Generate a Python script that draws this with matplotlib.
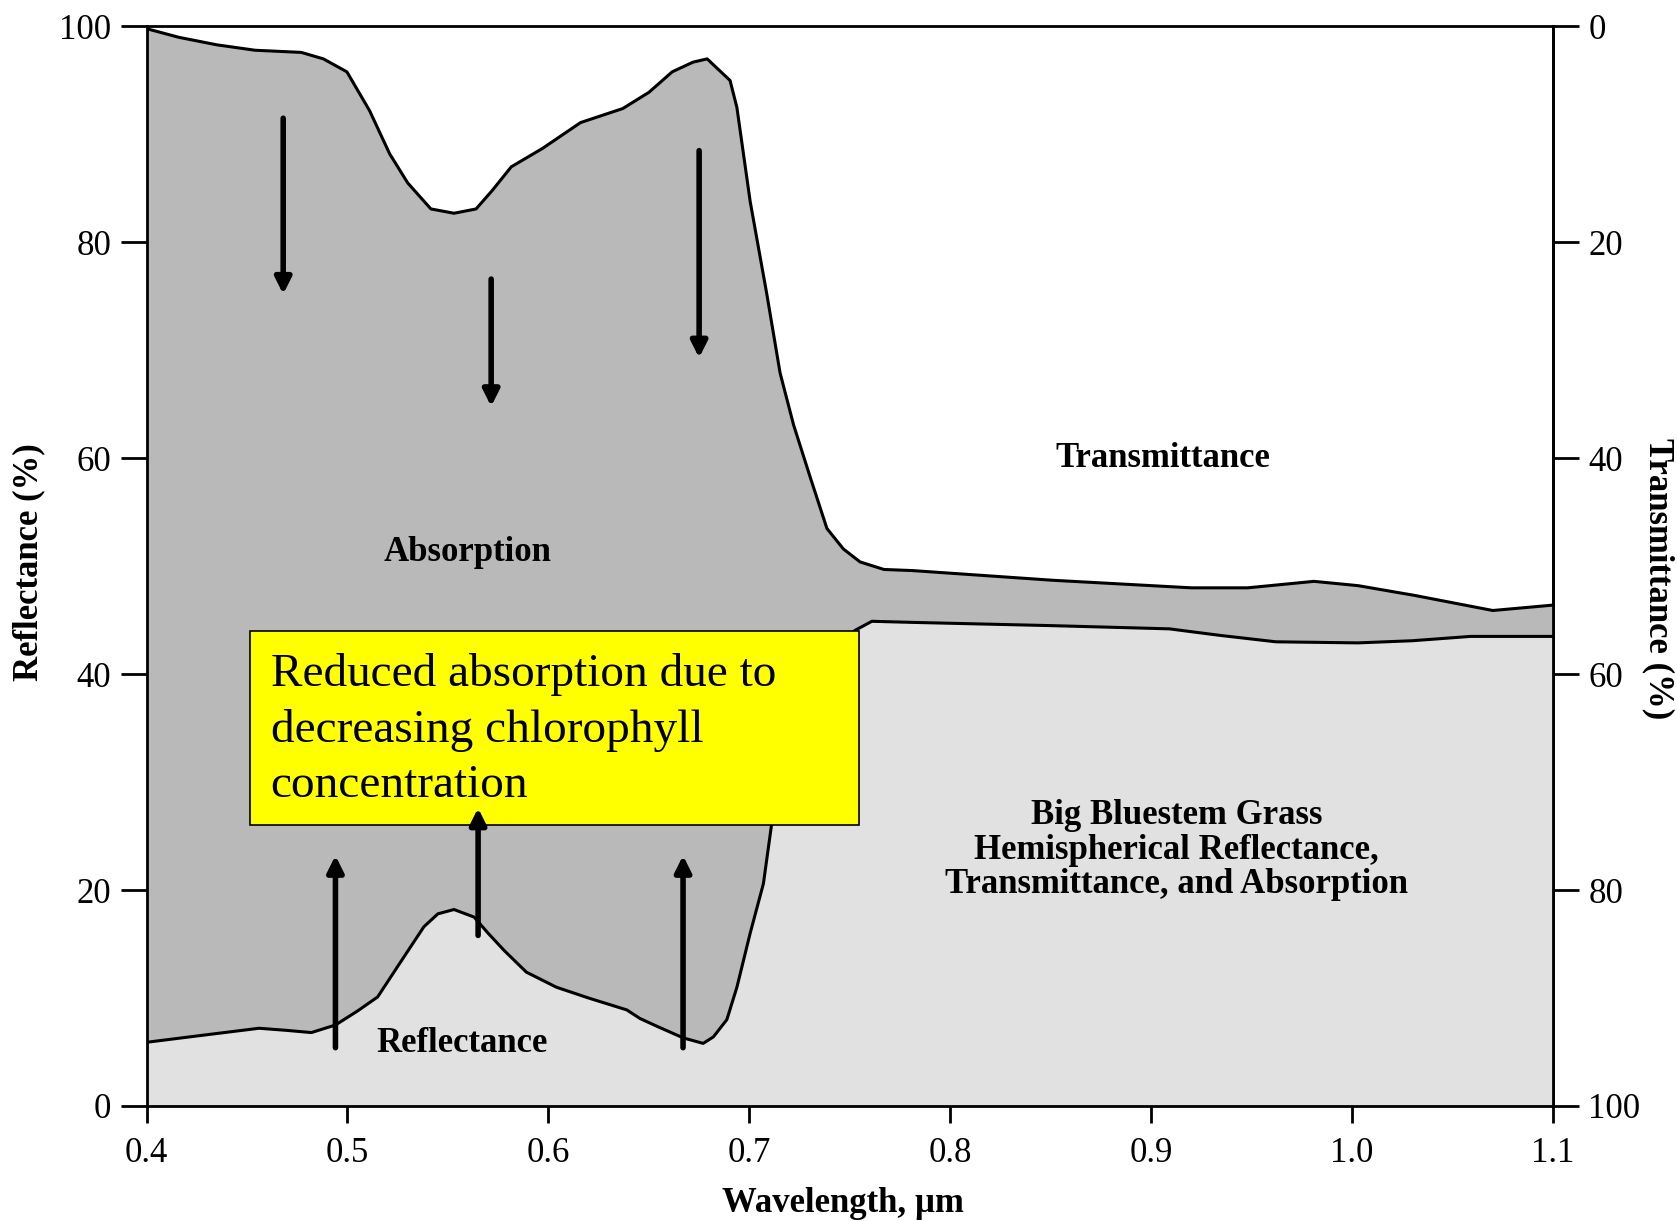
import matplotlib
matplotlib.use("Agg")
import matplotlib.pyplot as plt
from matplotlib.patches import Rectangle

# reflectance curve (lower boundary), %
wl_refl = [0.40, 0.43, 0.456, 0.47, 0.482, 0.494, 0.505, 0.515, 0.527, 0.538,
           0.545, 0.553, 0.563, 0.57, 0.578, 0.589, 0.604, 0.62, 0.639, 0.6456,
           0.655, 0.6672, 0.677, 0.6821, 0.6888, 0.6938, 0.7004, 0.707, 0.711, 0.72,
           0.73, 0.74, 0.753, 0.761, 0.781, 0.85, 0.909, 0.934, 0.962, 1.003,
           1.03, 1.059, 1.10]
refl = [5.9, 6.6, 7.2, 7.0, 6.8, 7.5, 8.8, 10.1, 13.5, 16.6,
        17.8, 18.2, 17.5, 16.0, 14.4, 12.4, 11.0, 10.0, 8.9, 8.1,
        7.3, 6.3, 5.8, 6.4, 8.0, 11.0, 16.0, 20.6, 26.0, 32.5,
        38.5, 42.5, 44.1, 44.9, 44.8, 44.5, 44.2, 43.6, 43.0, 42.9,
        43.1, 43.5, 43.5]

# reflectance + absorption (= 100 - transmittance), %
wl_upper = [0.40, 0.416, 0.435, 0.454, 0.477, 0.488, 0.4997, 0.511, 0.521, 0.530,
            0.5415, 0.553, 0.564, 0.572, 0.5815, 0.597, 0.616, 0.637, 0.650, 0.6616,
            0.672, 0.679, 0.6904, 0.6938, 0.7004, 0.7087, 0.7153, 0.722, 0.7302, 0.7386,
            0.7468, 0.7551, 0.767, 0.781, 0.851, 0.920, 0.948, 0.981, 1.003, 1.031,
            1.070, 1.10]
upper = [99.8, 99.0, 98.3, 97.8, 97.6, 97.0, 95.8, 92.2, 88.2, 85.5,
         83.1, 82.7, 83.1, 84.8, 87.0, 88.7, 91.1, 92.4, 93.9, 95.8,
         96.7, 97.0, 95.0, 92.5, 83.8, 75.2, 67.9, 63.1, 58.3, 53.5,
         51.6, 50.4, 49.7, 49.6, 48.7, 48.0, 48.0, 48.6, 48.2, 47.3,
         45.9, 46.4]

x_ticks = [0.4, 0.5, 0.6, 0.7, 0.8, 0.9, 1.0, 1.1]
x_ticklabels = ["0.4", "0.5", "0.6", "0.7", "0.8", "0.9", "1.0", "1.1"]
y_ticks = [0, 20, 40, 60, 80, 100]
scale_ticks = [0.61, 0.62, 0.63, 0.64, 0.65, 0.66, 0.67, 0.68, 0.69]

# arrows: (wavelength, tail, head)
down_arrows = [(0.468, 91.5, 75.2), (0.5715, 76.6, 64.8), (0.675, 88.5, 69.3)]
up_arrows = [(0.494, 5.4, 23.2), (0.565, 15.8, 27.6), (0.667, 5.4, 23.2)]

note_text = "Reduced absorption due to\ndecreasing chlorophyll\nconcentration"

plt.rcParams["font.family"] = ["Liberation Serif", "DejaVu Serif"]

fig = plt.figure(figsize=(16.77, 12.21), dpi=100, facecolor="white")
ax = fig.add_axes([0.0874, 0.0942, 0.8387, 0.8841])

ABS_GRAY = "#b9b9b9"
REF_GRAY = "#e1e1e1"

# layered fills: absorption below upper curve, reflectance on top
ax.fill_between(wl_upper, 0, upper, color=ABS_GRAY, lw=0, zorder=1)
ax.fill_between(wl_refl, 0, refl, color=REF_GRAY, lw=0, zorder=2)
ax.plot(wl_upper, upper, color="black", lw=2.2, zorder=3, solid_joinstyle="round")
ax.plot(wl_refl, refl, color="black", lw=2.2, zorder=3, solid_joinstyle="round")

ax.set_xlim(0.4, 1.1)
ax.set_ylim(0, 100)

# --- region labels ---
lbl = dict(fontsize=25, fontweight="bold", ha="center", va="center", zorder=6)
ax.text(0.56, 51.3, "Absorption", **lbl)
ax.text(0.9057, 60.0, "Transmittance", **lbl)
ax.text(0.557, 5.8, "Reflectance", **lbl)
ax.text(0.9127, 23.7,
        "Big Bluestem Grass\nHemispherical Reflectance,\nTransmittance, and Absorption",
        linespacing=1.05, **lbl)

# --- yellow note ---
ax.add_patch(Rectangle((0.4515, 26.0), 0.7547 - 0.4515, 44.0 - 26.0,
                       facecolor="#ffff00", edgecolor="black", lw=1.2, zorder=5))
ax.text(0.4618, 42.0, note_text, fontsize=34, ha="left", va="top",
        linespacing=1.4, zorder=6)

# --- arrows ---
for x, y0, y1 in down_arrows + up_arrows:
    ax.annotate("", xy=(x, y1), xytext=(x, y0), zorder=7,
                arrowprops=dict(arrowstyle="-|>", color="black", lw=4.0,
                                mutation_scale=24, shrinkA=0, shrinkB=0))

# --- axes styling ---
ax.set_xticks(x_ticks)
ax.set_xticklabels(x_ticklabels)
ax.set_yticks(y_ticks)
ax.set_xticks([t for t in scale_ticks if t != 0.65], minor=True)
ax.tick_params(axis="x", which="major", direction="out", length=12, width=2,
               labelsize=25, pad=10)
ax.tick_params(axis="x", which="minor", direction="in", length=10, width=1.8)
ax.tick_params(axis="y", which="major", direction="out", length=18.5, width=2,
               labelsize=25, pad=7)
for s in ax.spines.values():
    s.set_linewidth(2)

sec_x = ax.secondary_xaxis("bottom")
sec_x.set_xticks([0.65])
sec_x.tick_params(direction="in", length=17, width=1.8, labelbottom=False)
sec_x.spines["bottom"].set_visible(False)

sec_y = ax.secondary_yaxis("right", functions=(lambda v: 100 - v, lambda v: 100 - v))
sec_y.set_yticks(y_ticks)
sec_y.tick_params(direction="out", length=18.5, width=2, labelsize=25, pad=7)
sec_y.spines["right"].set_linewidth(2)

fig.text(0.0173, 0.54, "Reflectance (%)", rotation=90, fontsize=25,
         fontweight="bold", ha="center", va="center")
fig.text(0.9887, 0.526, "Transmittance (%)", rotation=-90, fontsize=25,
         fontweight="bold", ha="center", va="center")
fig.text(0.5027, 0.0147, "Wavelength, µm", fontsize=25, fontweight="bold",
         ha="center", va="center")

fig.savefig("out.png", dpi=100, facecolor="white")
